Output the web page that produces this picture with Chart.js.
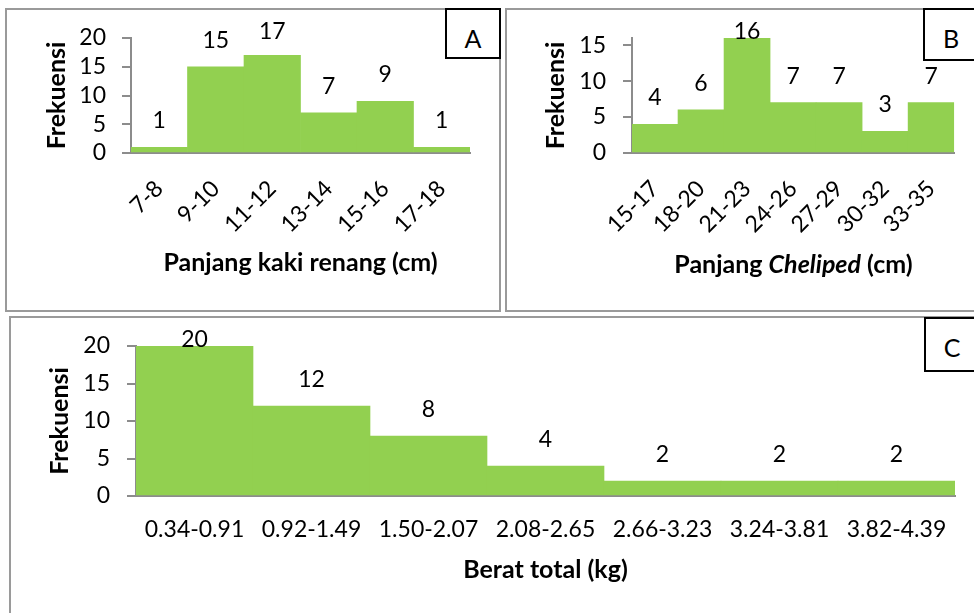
<!DOCTYPE html>
<html>
<head>
<meta charset="utf-8">
<script src="https://cdn.jsdelivr.net/npm/chart.js@4/dist/chart.umd.min.js"></script>
<style>
  html, body { margin: 0; padding: 0; background: #fff; }
  body { width: 974px; height: 613px; position: relative; overflow: hidden; font-family: Lato, sans-serif; }
  .panel { position: absolute; box-sizing: border-box; border: 2px solid #9a9a9a; background: #fff; }
  .tag { position: absolute; box-sizing: border-box; border: 2px solid #000; background: #fff;
         font: 25px Lato, sans-serif; color: #000; text-align: center; }
  .tag span { position: absolute; left: 0; right: 0; }
  canvas { position: absolute; }
  .xtitle { position: absolute; text-align: center; font: bold 25px Lato, sans-serif; line-height: 30px; color: #000; white-space: nowrap; }
</style>
</head>
<body>
<div class="panel" style="left:5px; top:8px; width:496px; height:304px;"></div>
<div class="panel" style="left:505px; top:8px; width:480px; height:304px;"></div>
<div class="panel" style="left:9px; top:316px; width:980px; height:310px;"></div>

<canvas id="chartA" width="500" height="311" style="left:0; top:0;"></canvas>
<canvas id="chartB" width="474" height="311" style="left:500px; top:0;"></canvas>
<canvas id="chartC" width="974" height="302" style="left:0; top:311px;"></canvas>

<div class="xtitle" style="left:632px; width:323px; top:248px;">Panjang <i>Cheliped</i> (cm)</div>

<div class="tag" style="left:445px; top:8px; width:56px; height:51px;"><span style="top:13px;">A</span></div>
<div class="tag" style="left:923px; top:8px; width:56px; height:53px;"><span style="top:13px;">B</span></div>
<div class="tag" style="left:924px; top:317px; width:56px; height:55px;"><span style="top:13px;">C</span></div>

<script>
// Panel A: swimming-leg length classes (cm) and their frequencies
const legClasses = ["7-8", "9-10", "11-12", "13-14", "15-16", "17-18"];
const legCounts = [1, 15, 17, 7, 9, 1];

// Panel B: cheliped length classes (cm) and their frequencies
const chelipedClasses = ["15-17", "18-20", "21-23", "24-26", "27-29", "30-32", "33-35"];
const chelipedCounts = [4, 6, 16, 7, 7, 3, 7];

// Panel C: total weight classes (kg) and their frequencies
const weightClasses = ["0.34-0.91", "0.92-1.49", "1.50-2.07", "2.08-2.65", "2.66-3.23", "3.24-3.81", "3.82-4.39"];
const weightCounts = [20, 12, 8, 4, 2, 2, 2];

const FONT = "Lato, sans-serif";
const TICK_SIZE = 23;
const TITLE_SIZE = 25;
const BAR_GREEN = "#92d050";
const AXIS_GRAY = "#8c8c8c";

// Writes each bar's count above it, kept just inside the top of the panel
const valueLabels = {
  id: "valueLabels",
  afterDatasetsDraw(chart) {
    const { ctx, chartArea } = chart;
    const meta = chart.getDatasetMeta(0);
    const values = chart.data.datasets[0].data;
    ctx.save();
    ctx.font = TICK_SIZE + "px " + FONT;
    ctx.fillStyle = "#000";
    ctx.textAlign = "center";
    ctx.textBaseline = "middle";
    meta.data.forEach((bar, i) => {
      const y = Math.max(bar.y - 26.5, chartArea.top - 6.5);
      ctx.fillText(String(values[i]), bar.x, y);
    });
    ctx.restore();
  }
};

function histogram(canvasId, cfg) {
  return new Chart(document.getElementById(canvasId), {
    type: "bar",
    data: {
      labels: cfg.labels,
      datasets: [{
        data: cfg.values,
        backgroundColor: BAR_GREEN,
        borderWidth: 0,
        categoryPercentage: 1,
        barPercentage: 1
      }]
    },
    plugins: [valueLabels],
    options: {
      responsive: false,
      animation: false,
      devicePixelRatio: 1,
      layout: { padding: cfg.padding },
      plugins: { legend: { display: false }, tooltip: { enabled: false } },
      scales: {
        x: {
          z: 1,
          grid: { display: false, drawTicks: false },
          border: { display: true, color: AXIS_GRAY, width: 2 },
          ticks: {
            color: "#000",
            font: { family: FONT, size: TICK_SIZE },
            minRotation: cfg.rotation,
            maxRotation: cfg.rotation,
            autoSkip: false,
            padding: cfg.xTickPad
          },
          title: cfg.xTitle ? {
            display: true,
            text: cfg.xTitle,
            color: "#000",
            font: { family: FONT, size: TITLE_SIZE, weight: "bold" },
            padding: { top: 0, bottom: cfg.xTitlePad }
          } : { display: false },
          afterFit(scale) { scale.height = cfg.xHeight; }
        },
        y: {
          z: 1,
          min: 0,
          max: cfg.yMax,
          grid: { drawOnChartArea: false, drawTicks: true, tickLength: 9, color: AXIS_GRAY, lineWidth: 2 },
          border: { display: true, color: AXIS_GRAY, width: 2 },
          ticks: {
            stepSize: 5,
            includeBounds: false,
            autoSkip: false,
            color: "#000",
            font: { family: FONT, size: TICK_SIZE },
            padding: cfg.yTickPad
          },
          title: {
            display: true,
            text: "Frekuensi",
            color: "#000",
            font: { family: FONT, size: TITLE_SIZE, weight: "bold" },
            padding: { top: cfg.yTitlePad, bottom: 0 }
          },
          afterFit(scale) { scale.width = cfg.yWidth; }
        }
      }
    }
  });
}

histogram("chartA", {
  labels: legClasses, values: legCounts, yMax: 20,
  padding: { left: 0, top: 38, right: 30, bottom: 0 },
  rotation: 45, xTickPad: 22, xHeight: 158,
  xTitle: "Panjang kaki renang (cm)", xTitlePad: 33,
  yWidth: 131, yTickPad: 16, yTitlePad: 42
});

histogram("chartB", {
  labels: chelipedClasses, values: chelipedCounts, yMax: 16,
  padding: { left: 0, top: 38, right: 19, bottom: 0 },
  rotation: 45, xTickPad: 22, xHeight: 158,
  xTitle: null, xTitlePad: 0,
  yWidth: 132, yTickPad: 17, yTitlePad: 41
});

histogram("chartC", {
  labels: weightClasses, values: weightCounts, yMax: 20,
  padding: { left: 0, top: 35, right: 19, bottom: 0 },
  rotation: 0, xTickPad: 20, xHeight: 117,
  xTitle: "Berat total (kg)", xTitlePad: 28,
  yWidth: 136, yTickPad: 17, yTitlePad: 45
});
</script>
</body>
</html>
